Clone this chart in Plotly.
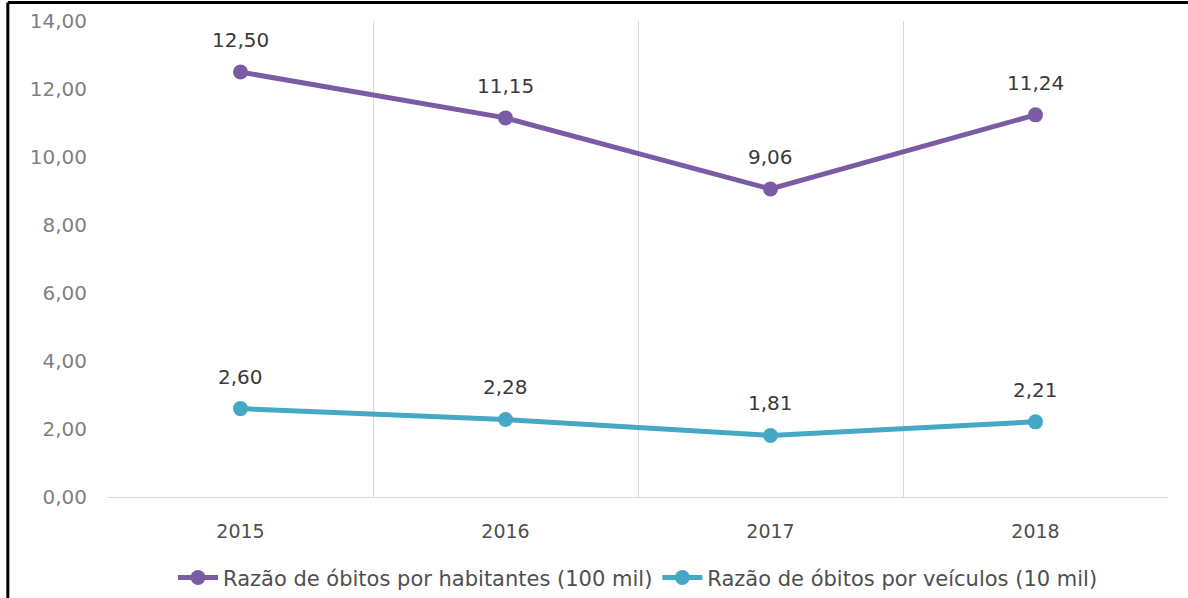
import plotly.graph_objects as go

years = ["2015", "2016", "2017", "2018"]
hab = [12.50, 11.15, 9.06, 11.24]
veic = [2.60, 2.28, 1.81, 2.21]
hab_labels = ["12,50", "11,15", "9,06", "11,24"]
veic_labels = ["2,60", "2,28", "1,81", "2,21"]
y_ticks = [0, 2, 4, 6, 8, 10, 12, 14]
y_tick_text = ["0,00", "2,00", "4,00", "6,00", "8,00", "10,00", "12,00", "14,00"]

name_hab = "Razão de óbitos por habitantes (100 mil)"
name_veic = "Razão de óbitos por veículos (10 mil)"

purple = "#7A5CA5"
teal = "#45A8C4"
FONT = "DejaVu Sans"

fig = go.Figure()
fig.add_trace(go.Scatter(x=years, y=hab, name=name_hab, mode="lines+markers",
                         line=dict(color=purple, width=5),
                         marker=dict(color=purple, size=15)))
fig.add_trace(go.Scatter(x=years, y=veic, name=name_veic, mode="lines+markers",
                         line=dict(color=teal, width=5),
                         marker=dict(color=teal, size=15)))

for ys, ls in [(hab, hab_labels), (veic, veic_labels)]:
    for i, (y, t) in enumerate(zip(ys, ls)):
        fig.add_annotation(x=i, y=y, text=t, showarrow=False, yshift=32,
                           font=dict(family=FONT, size=20, color="#3A3A3A"))

# partial black frame (left and top edges visible in the reference)
fig.add_shape(type="line", xref="paper", yref="paper", x0=-0.0945, x1=-0.0945, y0=-0.3, y1=1.039,
              line=dict(color="black", width=3))
fig.add_shape(type="line", xref="paper", yref="paper", x0=-0.0945, x1=1.05, y0=1.039, y1=1.039,
              line=dict(color="black", width=3))

fig.update_layout(
    width=1188, height=598,
    margin=dict(l=108, r=20, t=21, b=101, autoexpand=False),
    paper_bgcolor="white", plot_bgcolor="white",
    font=dict(family=FONT, color="#595959"),
    showlegend=True,
    legend=dict(orientation="h", x=0.5, xanchor="center", y=-0.17, yanchor="middle",
                font=dict(family=FONT, size=21, color="#4F4F4F"),
                itemwidth=40, tracegroupgap=0),
    xaxis=dict(type="category", categoryorder="array", categoryarray=years,
               range=[-0.5, len(years) - 0.5], tickson="boundaries",
               showgrid=True, gridcolor="#D9D9D9", gridwidth=1, automargin=False,
               showline=True, linecolor="#D9D9D9", linewidth=1, ticks="", tickangle=0,
               ticklabelstandoff=17,
               tickfont=dict(family=FONT, size=19, color="#4F4F4F"), zeroline=False),
    yaxis=dict(range=[0, 14], tickvals=y_ticks, ticktext=y_tick_text, showgrid=False,
               zeroline=False, showline=False, ticks="", ticklabelstandoff=20, automargin=False,
               tickfont=dict(family=FONT, size=20, color="#808080")),
)

fig.write_html("out.html", config={"displayModeBar": False},
               post_script="document.body.style.margin='0';document.body.style.overflow='hidden';")
